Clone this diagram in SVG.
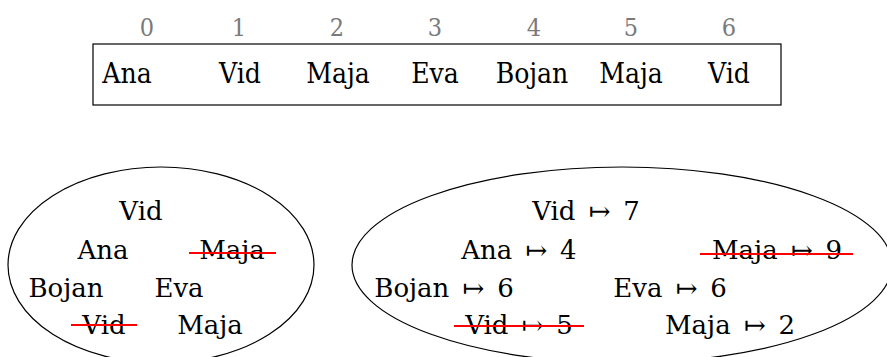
<svg xmlns="http://www.w3.org/2000/svg" width="887" height="357" viewBox="0 0 887 357">
<style>
text{font-family:"DejaVu Serif","Liberation Serif",serif;font-size:26px;fill:#000;text-anchor:middle}
.top{font-stretch:condensed;font-size:28px}
.idx{fill:#7a7a7a;font-size:25px;font-stretch:condensed}
.strike{stroke:#f00;stroke-width:2}
.shape{fill:none;stroke:#000;stroke-width:1.2}
</style>
<rect width="887" height="357" fill="#fff"/>
<g id="array">
<rect class="shape" x="93" y="44" width="688" height="61"/>
<text class="idx" x="147" y="36">0</text>
<text class="idx" x="239" y="36">1</text>
<text class="idx" x="337" y="36">2</text>
<text class="idx" x="435" y="36">3</text>
<text class="idx" x="534" y="36">4</text>
<text class="idx" x="631" y="36">5</text>
<text class="idx" x="729" y="36">6</text>
<text class="top" x="127" y="83">Ana</text>
<text class="top" x="240" y="83">Vid</text>
<text class="top" x="338" y="83">Maja</text>
<text class="top" x="435" y="83">Eva</text>
<text class="top" x="532" y="83">Bojan</text>
<text class="top" x="631" y="83">Maja</text>
<text class="top" x="729" y="83">Vid</text>
</g>
<g id="set">
<ellipse class="shape" cx="161" cy="265" rx="153" ry="98"/>
<text x="141" y="220">Vid</text>
<text x="103" y="259">Ana</text>
<text x="232" y="259">Maja</text>
<text x="66" y="297">Bojan</text>
<text x="179" y="297">Eva</text>
<text x="104" y="334">Vid</text>
<text x="210" y="334">Maja</text>
<line class="strike" x1="189" y1="253" x2="276" y2="253"/>
<line class="strike" x1="71" y1="325" x2="137" y2="325"/>
</g>
<g id="map">
<ellipse class="shape" cx="622" cy="265" rx="270" ry="98"/>
<text x="586" y="220">Vid&#8194;&#8614;&#8194;7</text>
<text x="519" y="259">Ana&#8194;&#8614;&#8194;4</text>
<text x="777" y="259">Maja&#8194;&#8614;&#8194;9</text>
<text x="444" y="297">Bojan&#8194;&#8614;&#8194;6</text>
<text x="670" y="297">Eva&#8194;&#8614;&#8194;6</text>
<text x="519" y="334">Vid&#8194;&#8614;&#8194;5</text>
<text x="730" y="334">Maja&#8194;&#8614;&#8194;2</text>
<line class="strike" x1="700" y1="254" x2="853" y2="254"/>
<line class="strike" x1="454" y1="326" x2="584" y2="326"/>
</g>
</svg>
